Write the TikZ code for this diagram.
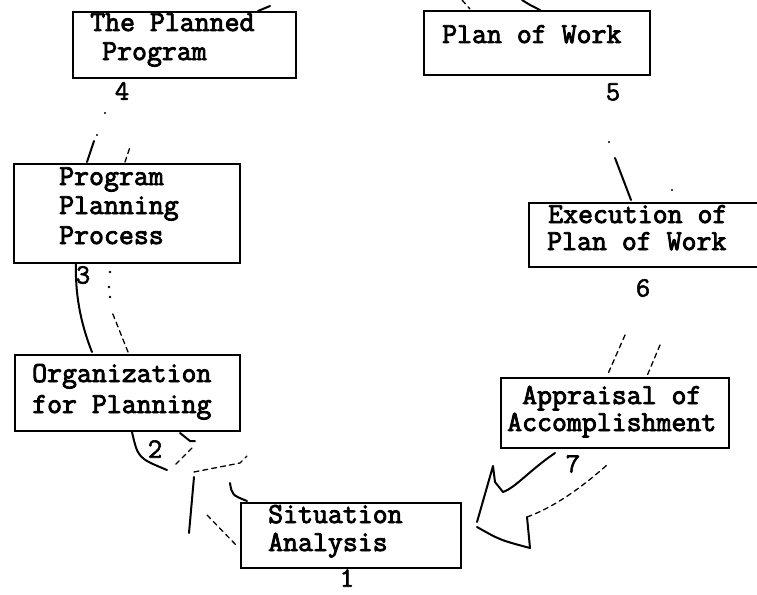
\documentclass[tikz,border=0pt]{standalone}
\usepackage{fontspec}
\newfontfamily\twfont{Latin Modern Mono}[FakeBold=3]
\newfontfamily\digfont{Latin Modern Mono}[FakeBold=2]
\newcommand\typefont{\fontsize{29}{32}\selectfont\twfont}
\newcommand\digitfont{\fontsize{28}{32}\selectfont\digfont}
\begin{document}
\begin{tikzpicture}[x=1pt,y=-1pt,
  box/.style={draw, line width=2.4pt, inner sep=0pt, anchor=north west},
  txt/.style={font=\typefont, anchor=base west, inner sep=0pt},
  num/.style={font=\digitfont, inner sep=0pt},
  stroke/.style={line width=2pt, line cap=round, line join=round},
  faint/.style={line width=1.3pt, dash pattern=on 5pt off 4pt, line cap=round},
  speck/.style={fill}]
\useasboundingbox (0,0) rectangle (757,594);
\clip (0,0) rectangle (757,594);

% boxes
\node[box, minimum width=223pt, minimum height=66pt] (b4) at (72,11) {};
\node[box, minimum width=226pt, minimum height=64pt] (b5) at (423,10) {};
\node[box, minimum width=226pt, minimum height=99pt] (b3) at (13,163) {};
\node[box, minimum width=250pt, minimum height=64pt] (b6) at (528,202) {};
\node[box, minimum width=225pt, minimum height=76pt] (b2) at (14,354) {};
\node[box, minimum width=220pt, minimum height=65pt] (b1) at (240,502) {};
\node[box, minimum width=228pt, minimum height=70pt] (b7) at (500,377) {};

% texts
\node[txt] (t4a) at (90,31) {The Planned};
\node[txt] (t4b) at (102,60) {Program};
\node[txt] (t5) at (442,43) {Plan of Work};
\node[txt] (t3a) at (59,185) {Program};
\node[txt] (t3b) at (59,214) {Planning};
\node[txt] (t3c) at (59,244) {Process};
\node[txt] (t6a) at (548,223) {Execution of};
\node[txt] (t6b) at (547,250) {Plan of Work};
\node[txt] (t2a) at (32,382) {Organization};
\node[txt] (t2b) at (32,413) {for Planning};
\node[txt] (t1a) at (268,523) {Situation};
\node[txt] (t1b) at (268,551) {Analysis};
\node[txt] (t7a) at (522,404) {Appraisal of};
\node[txt] (t7b) at (507,431) {Accomplishment};

% numbers
\node[num] (n4) at (122,91) {4};
\node[num] (n5) at (613,92) {5};
\node[num] (n3) at (83,275) {3};
\node[num] (n6) at (643,288) {6};
\node[num] (n2) at (155,449) {2};
\node[num] (n1) at (347,578) {1};
\node[num] (n7) at (573,464) {7};

% arrow 4 -> 5 (cut off at top)
\draw[stroke] (258,11) -- (270,6);
\draw[faint] (462,0) -- (470,9);
\draw[stroke] (522,0) .. controls (530,5) .. (540,10);

% arrow 3 -> 4
\draw[stroke] (87,162) -- (94,141);
\fill[speck] (97,135) circle (1.2pt);
\fill[speck] (105,113) circle (1.2pt);
\draw[faint] (125,162) -- (130,147);

% arrow 2 -> 3
\draw[stroke] (92,352) .. controls (80,322) and (75,292) .. (76,263);
\draw[faint] (128,352) -- (112,312);
\fill[speck] (110,297) circle (1.3pt);
\fill[speck] (109,287) circle (1.3pt);
\fill[speck] (110,272) circle (1.3pt);

% arrow 1 -> 2
\draw[stroke] (194,477) -- (189,533);
\draw[faint] (194,472) -- (240,463) -- (247,456);
\draw[faint] (207,515) -- (237,546);
\draw[stroke] (230,483) .. controls (232,495) .. (247,501);
\draw[stroke] (132,432) .. controls (138,458) .. (167,470);
\draw[stroke] (180,433) -- (190,441) -- (195,441);
\draw[faint] (192,448) -- (175,465);

% arrow 5 -> 6
\fill[speck] (609,142) circle (1.2pt);
\draw[stroke] (615,158) -- (631,200);
\fill[speck] (672,190) circle (1.2pt);

% arrow 6 -> 7
\draw[faint] (625,335) -- (607,376);
\draw[faint] (660,345) -- (647,376);

% arrow 7 -> 1
\draw[stroke] (555,453) .. controls (530,470) and (515,488) .. (503,492)
  -- (495,482) -- (493,466) -- (477,522);
\draw[stroke] (477,527) .. controls (500,540) .. (530,548) -- (527,517);
\draw[faint] (527,517) .. controls (560,505) and (590,480) .. (607,465);
\end{tikzpicture}
\end{document}
